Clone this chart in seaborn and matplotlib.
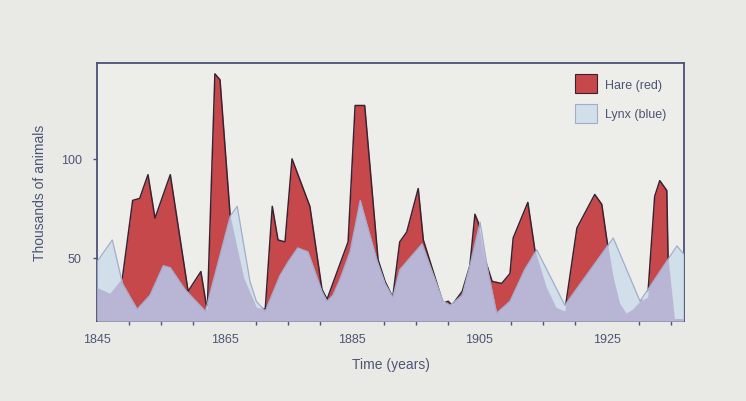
import matplotlib
matplotlib.use("Agg")
import matplotlib.pyplot as plt
from matplotlib.patches import Patch
import seaborn as sns
import pandas as pd

# ---- data (thousands of animals) ----
hare_years = [1845.0, 1847.0, 1849.0, 1850.6, 1851.7, 1853.0, 1854.1, 1856.5, 1859.3,
              1861.3, 1862.3, 1863.5, 1864.3, 1865.9, 1868.0, 1870.0, 1871.4, 1872.5,
              1873.4, 1874.5, 1875.6, 1878.4, 1880.3, 1881.1, 1882.8, 1884.4, 1885.5,
              1887.0, 1889.1, 1890.2, 1891.4, 1892.5, 1893.6, 1895.4, 1896.2, 1899.3,
              1900.1, 1900.7, 1902.3, 1903.5, 1904.3, 1904.8, 1905.8, 1907.0, 1908.5,
              1909.8, 1910.3, 1912.6, 1913.7, 1915.5, 1917.0, 1918.4, 1920.3, 1923.1,
              1924.2, 1925.0, 1926.0, 1927.0, 1928.0, 1929.0, 1930.2, 1931.4, 1932.5,
              1933.3, 1934.4, 1934.6, 1935.6, 1937.0]
hare_vals = [35, 32, 40, 79, 80, 92, 70, 92, 33,
             43, 23, 143, 140, 71, 40, 25, 24, 76,
             59, 58, 100, 76, 34, 29, 44, 58, 127,
             127, 49, 38, 30, 58, 63, 85, 59, 27,
             28, 26, 33, 46, 72, 68, 50, 38, 37,
             42, 60, 78, 54, 35, 25, 23, 65, 82,
             77, 59, 40, 27, 22, 24, 28, 30, 81,
             89, 84, 50, 19, 19]

lynx_years = [1845.0, 1847.4, 1849.0, 1851.3, 1853.3, 1855.4, 1856.5, 1858.8, 1862.0,
              1865.9, 1867.0, 1869.0, 1870.0, 1871.4, 1873.7, 1875.0, 1876.5, 1878.1,
              1880.3, 1881.1, 1882.0, 1883.1, 1884.7, 1886.3, 1888.9, 1890.2, 1891.4,
              1892.5, 1896.0, 1899.3, 1900.4, 1902.3, 1903.8, 1905.1, 1906.3, 1907.7,
              1909.8, 1912.1, 1914.0, 1918.4, 1926.0, 1930.2, 1936.0, 1937.0]
lynx_vals = [48, 59, 37, 24, 31, 46, 45, 34, 23,
             71, 76, 38, 28, 23, 41, 48, 55, 53,
             33, 28, 31, 39, 53, 79, 49, 37, 30,
             44, 57, 28, 26, 31, 50, 68, 44, 22,
             28, 44, 54, 26, 60, 28, 56, 52]

x_tick_labels = ["1845", "1865", "1885", "1905", "1925"]
y_ticks = [50, 100]

# ---- style ----
Y_MIN, Y_MAX = 18, 148.5
RED = "#c6484b"
RED_EDGE = "#3b2233"
BLUE = "#d0dfea"
LAV = "#b8b6d4"
BLUE_EDGE = "#a3adcb"
FRAME = "#4b5178"
TXT = "#4c5575"
BG = "#e9eae5"
AX_BG = "#edeee9"

sns.set_theme(style="ticks")
plt.rcParams["font.family"] = ["Liberation Sans", "DejaVu Sans"]

fig = plt.figure(figsize=(7.46, 4.02), dpi=100, facecolor=BG)
ax = fig.add_axes([97 / 746, 1 - 322 / 402, (684 - 97) / 746, (322 - 64) / 402])
ax.set_facecolor(AX_BG)

hare_df = pd.DataFrame({"year": hare_years, "value": hare_vals})
lynx_df = pd.DataFrame({"year": lynx_years, "value": lynx_vals})

# hare (red) area + outline
ax.fill_between(hare_df["year"], Y_MIN, hare_df["value"], color=RED, lw=0, zorder=1)
sns.lineplot(data=hare_df, x="year", y="value", ax=ax, color=RED_EDGE, lw=1.1,
             sort=False, estimator=None, zorder=2)

# lynx (blue) area
lynx_poly = ax.fill_between(lynx_df["year"], Y_MIN, lynx_df["value"], color=BLUE,
                            lw=0, zorder=3)
# overlap region: hare area clipped to the lynx area
ov = ax.fill_between(hare_df["year"], Y_MIN, hare_df["value"], color=LAV, lw=0, zorder=4)
ov.set_clip_path(lynx_poly.get_paths()[0], ax.transData)
sns.lineplot(data=lynx_df, x="year", y="value", ax=ax, color=BLUE_EDGE, lw=0.9,
             sort=False, estimator=None, zorder=5)

ax.set_xlim(1845, 1937.1)
ax.set_ylim(Y_MIN, Y_MAX)

ax.set_xticks([int(s) for s in x_tick_labels])
ax.set_xticklabels(x_tick_labels)
ax.set_xticks(list(range(1850, 1937, 5)), minor=True)
ax.set_yticks(y_ticks)
ax.set_yticklabels([str(v) for v in y_ticks])
ax.tick_params(axis="both", which="both", direction="out", colors=FRAME,
               labelcolor=TXT, labelsize=9, length=3, width=1)
ax.tick_params(axis="x", which="major", length=0, pad=9)
ax.tick_params(axis="y", pad=8)

for s in ax.spines.values():
    s.set_visible(True)
    s.set_color(FRAME)
    s.set_linewidth(1.3)

ax.set_xlabel("Time (years)", fontsize=10, color=TXT, labelpad=8)
ax.set_ylabel("Thousands of animals", fontsize=10, color=TXT, labelpad=10)

handles = [Patch(facecolor=RED, edgecolor=RED_EDGE, lw=0.8),
           Patch(facecolor=BLUE, edgecolor=BLUE_EDGE, lw=0.8)]
ax.legend(handles, ["Hare (red)", "Lynx (blue)"], loc="upper right", frameon=False,
          fontsize=9, handlelength=1.8, handleheight=1.85, labelspacing=0.95,
          handletextpad=0.6, borderaxespad=0, bbox_to_anchor=(0.978, 0.975),
          labelcolor=TXT)

fig.savefig("out.png", dpi=100, facecolor=BG)
